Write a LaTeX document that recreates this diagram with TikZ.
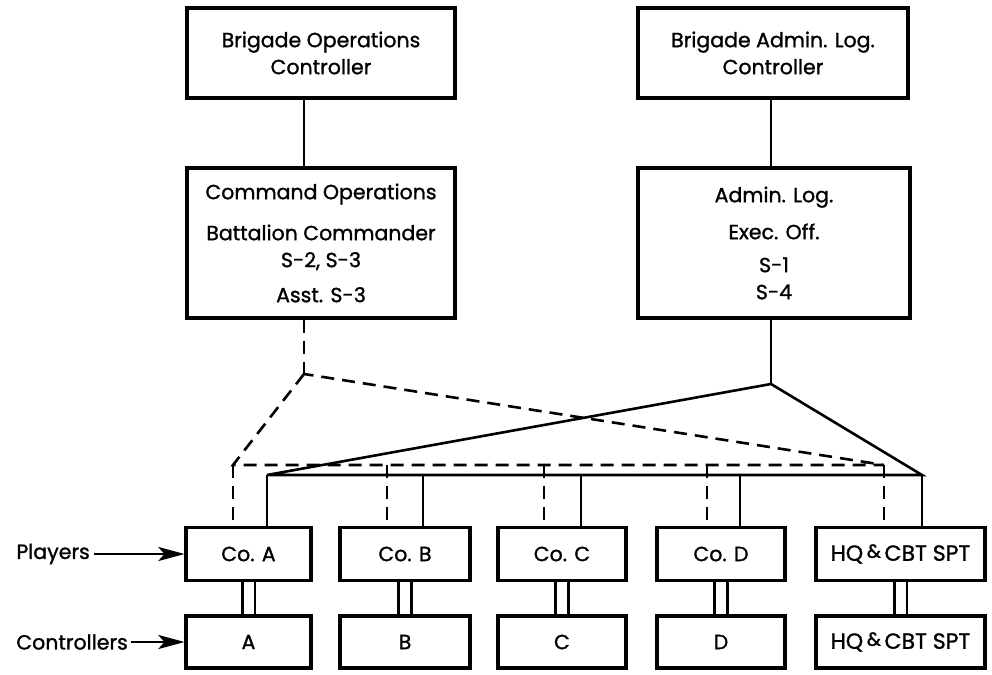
\documentclass[tikz,border=0pt]{standalone}
\usepackage{fontspec}
\setmainfont{Poppins}[FakeBold = 1.2]
\usetikzlibrary{arrows.meta}
\newcommand{\amp}{{\fontsize{19}{19}\selectfont\raisebox{3pt}{\&}}}

\begin{document}
\begin{tikzpicture}[x = 1pt, y = 1pt]
        \tikzstyle{every node} = [rectangle, align = center, inner sep = 0pt, font = \fontsize{20.5}{27}\selectfont]
        \tikzstyle{box} = [draw, line width = 3.2pt, minimum height = 53pt]
        \tikzstyle{link} = [line width = 2.6pt]
        \tikzstyle{dlink} = [line width = 2.6pt, dash pattern = on 13pt off 8pt]
        \useasboundingbox (0, 0) rectangle (992, 674);

        \node(Brigade Ops)[box, minimum width = 268pt, minimum height = 90pt] at (321, 621) {Brigade Operations\\Controller};
        \node(Brigade Adm)[box, minimum width = 270pt, minimum height = 90pt] at (773, 621) {Brigade Admin. Log.\\Controller};
        \node(Command Ops)[box, minimum width = 268pt, minimum height = 150pt] at (321, 431) {Command Operations\\[14pt]Battalion Commander\\S-2, S-3\\[8pt]Asst. S-3};
        \node(Admin Log)[box, minimum width = 272pt, minimum height = 150pt] at (774, 431) {Admin. Log.\\[10pt]Exec. Off.\\[6pt]S-1\\S-4};

        \coordinate (Ops joint) at (304, 300);
        \coordinate (Adm joint) at (771, 290);
        \draw [link] (Brigade Ops.south -| Ops joint) -- (Command Ops.north -| Ops joint);
        \draw [link] (Brigade Adm.south -| Adm joint) -- (Admin Log.north -| Adm joint);
        \draw [dlink] (Command Ops.south -| Ops joint) -- (Ops joint);
        \draw [link] (Admin Log.south -| Adm joint) -- (Adm joint);

        % companies and their controllers
        \foreach \n/\x/\w/\t/\c/\d/\s in {A/248.5/125/Co. A/A/233/267, B/405/130/Co. B/B/387/423, C/562/128/Co. C/C/544/581, D/721/128/Co. D/D/707/740, HQ/900.5/169/\fontsize{22}{27}\selectfont HQ\,\amp\,CBT SPT/\fontsize{22}{27}\selectfont HQ\,\amp\,CBT SPT/884/922} {
            \node(Co \n)[box, minimum width = \w pt] at (\x, 120) {\t};
            \node(Ctrl \n)[box, minimum width = \w pt, minimum height = 52pt] at (\x, 32) {\c};
            \draw [link, double, double distance = 10pt] (Co \n) -- (Ctrl \n);
            \coordinate (Dd \n) at (\d, 209);
            \coordinate (Sd \n) at (\s, 199);
            \draw [dlink] (Dd \n) -- (Dd \n |- Co \n.north);
            \draw [link] (Sd \n) -- (Sd \n |- Co \n.north);
        }

        \draw [dlink] (Ops joint) -- (Dd A) -- (Dd HQ) -- cycle;
        \draw [link] (Adm joint) -- (Sd A) -- (Sd HQ) -- cycle;

        \node(Players)[anchor = east, inner xsep = 4pt] at (94, 120) {Players};
        \node(Controllers)[anchor = east, inner xsep = 3pt] at (131, 32) {Controllers};
        \draw [link, -{Stealth[length = 26pt, width = 14pt, inset = 6pt]}] (Players.east) -- (Co A.west);
        \draw [link, -{Stealth[length = 26pt, width = 14pt, inset = 6pt]}] (Controllers.east) -- (Ctrl A.west);

    \end{tikzpicture}
\end{document}
